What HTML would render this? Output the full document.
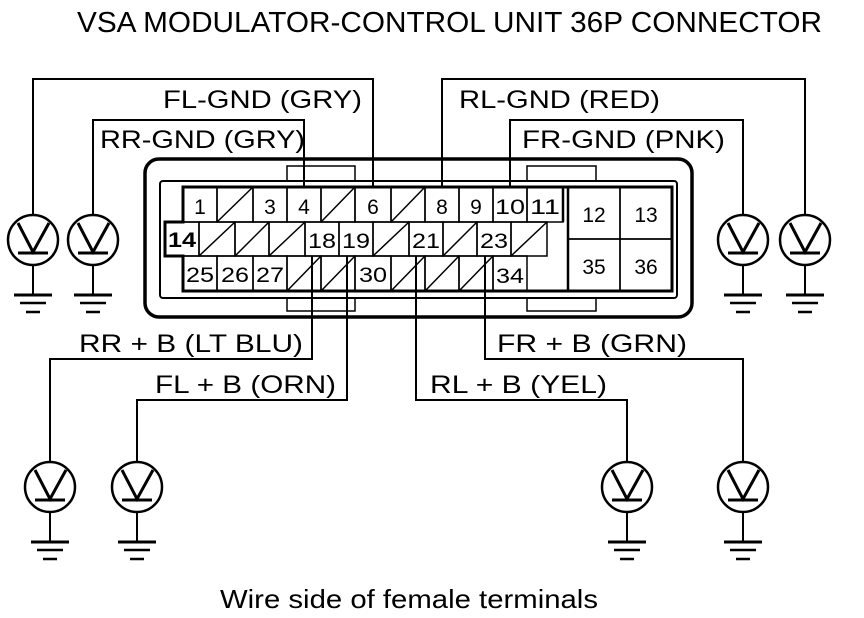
<!DOCTYPE html>
<html><head><meta charset="utf-8"><style>
html,body{margin:0;padding:0;background:#fff;}
svg{display:block;}
text{font-family:"Liberation Sans",sans-serif;fill:#000;}
</style></head><body>
<svg width="864" height="618" viewBox="0 0 864 618" xmlns="http://www.w3.org/2000/svg">
<defs>
<g id="lamp">
<circle cx="0" cy="0" r="25" fill="#fff" stroke="#000" stroke-width="2.5"/>
<polyline points="-15,-17 0,12 16,-17" fill="none" stroke="#000" stroke-width="3"/>
<line x1="-15" y1="13" x2="15" y2="13" stroke="#000" stroke-width="3"/>
<line x1="0" y1="25" x2="0" y2="55" stroke="#000" stroke-width="2"/>
<line x1="-19" y1="55" x2="19" y2="55" stroke="#000" stroke-width="3"/>
<line x1="-13" y1="63" x2="13" y2="63" stroke="#000" stroke-width="2.5"/>
<line x1="-7" y1="72" x2="7" y2="72" stroke="#000" stroke-width="2.5"/>
</g>
</defs>
<text x="77" y="32" font-size="29" textLength="745" lengthAdjust="spacingAndGlyphs">VSA MODULATOR-CONTROL UNIT 36P CONNECTOR</text>

<g fill="none" stroke="#000" stroke-width="2">
<polyline points="373,187 373,79 33,79 33,214"/>
<polyline points="304,187 304,120 93,120 93,214"/>
<polyline points="442,187 442,79 805,79 805,214"/>
<polyline points="510,187 510,120 743,120 743,214"/>
<polyline points="312,256 312,359 50,359 50,462"/>
<polyline points="347,256 347,400 137,400 137,462"/>
<polyline points="416,256 416,400 627,400 627,462"/>
<polyline points="485,256 485,359 743,359 743,462"/>
</g>

<rect x="145" y="159" width="547" height="158" rx="14" fill="none" stroke="#000" stroke-width="3.5"/>
<rect x="287" y="166" width="68" height="15" fill="none" stroke="#000" stroke-width="1.5"/>
<rect x="527" y="166" width="69" height="15" fill="none" stroke="#000" stroke-width="1.5"/>
<rect x="287" y="298" width="68" height="13" fill="none" stroke="#000" stroke-width="1.5"/>
<rect x="527" y="298" width="69" height="13" fill="none" stroke="#000" stroke-width="1.5"/>
<rect x="160" y="181" width="517" height="117" rx="3" fill="#fff" stroke="#000" stroke-width="2"/>

<g stroke="#000" stroke-width="1.5" fill="none">
<rect x="183" y="187" width="34" height="35"/><rect x="217" y="187" width="36" height="35"/>
<rect x="253" y="187" width="34" height="35"/><rect x="287" y="187" width="34" height="35"/>
<rect x="321" y="187" width="34" height="35"/><rect x="355" y="187" width="36" height="35"/>
<rect x="391" y="187" width="34" height="35"/><rect x="425" y="187" width="34" height="35"/>
<rect x="459" y="187" width="34" height="35"/><rect x="493" y="187" width="34" height="35"/>
<rect x="527" y="187" width="36" height="35"/>
<rect x="165" y="222" width="34" height="34"/><rect x="199" y="222" width="36" height="34"/>
<rect x="235" y="222" width="34" height="34"/><rect x="269" y="222" width="36" height="34"/>
<rect x="305" y="222" width="34" height="34"/><rect x="339" y="222" width="34" height="34"/>
<rect x="373" y="222" width="36" height="34"/><rect x="409" y="222" width="34" height="34"/>
<rect x="443" y="222" width="34" height="34"/><rect x="477" y="222" width="34" height="34"/>
<rect x="511" y="222" width="36" height="34"/>
<rect x="183" y="256" width="34" height="35"/><rect x="217" y="256" width="36" height="35"/>
<rect x="253" y="256" width="34" height="35"/><rect x="287" y="256" width="34" height="35"/>
<rect x="321" y="256" width="34" height="35"/><rect x="355" y="256" width="36" height="35"/>
<rect x="391" y="256" width="34" height="35"/><rect x="425" y="256" width="34" height="35"/>
<rect x="459" y="256" width="34" height="35"/><rect x="493" y="256" width="34" height="35"/>
<rect x="568" y="187" width="52" height="52"/><rect x="620" y="187" width="52" height="52"/>
<rect x="568" y="239" width="52" height="52"/><rect x="620" y="239" width="52" height="52"/>
<line x1="217" y1="222" x2="253" y2="187"/><line x1="321" y1="222" x2="355" y2="187"/>
<line x1="391" y1="222" x2="425" y2="187"/>
<line x1="199" y1="256" x2="235" y2="222"/><line x1="235" y1="256" x2="269" y2="222"/>
<line x1="269" y1="256" x2="305" y2="222"/><line x1="373" y1="256" x2="409" y2="222"/>
<line x1="443" y1="256" x2="477" y2="222"/><line x1="511" y1="256" x2="547" y2="222"/>
<line x1="287" y1="291" x2="321" y2="256"/><line x1="321" y1="291" x2="355" y2="256"/>
<line x1="391" y1="291" x2="425" y2="256"/><line x1="425" y1="291" x2="459" y2="256"/>
<line x1="459" y1="291" x2="493" y2="256"/>
</g>
<polygon points="183,187 672,187 672,291 183,291 183,256 165,256 165,222 183,222" fill="none" stroke="#000" stroke-width="3"/>
<line x1="563" y1="187" x2="563" y2="222" stroke="#000" stroke-width="2.5"/>
<line x1="568" y1="187" x2="568" y2="291" stroke="#000" stroke-width="2.5"/>

<g stroke="#000" stroke-width="2">
<line x1="373" y1="159" x2="373" y2="187"/><line x1="304" y1="159" x2="304" y2="187"/>
<line x1="442" y1="159" x2="442" y2="187"/><line x1="510" y1="159" x2="510" y2="187"/>
<line x1="312" y1="256" x2="312" y2="320"/><line x1="347" y1="256" x2="347" y2="320"/>
<line x1="416" y1="256" x2="416" y2="320"/><line x1="485" y1="256" x2="485" y2="320"/>
</g>

<g font-size="21" text-anchor="middle">
<text x="200" y="214">1</text><text x="270" y="214">3</text><text x="304" y="214">4</text>
<text x="373" y="214">6</text><text x="442" y="214">8</text><text x="476" y="214">9</text>
<text x="510" y="214" textLength="30" lengthAdjust="spacingAndGlyphs">10</text><text x="545" y="214" textLength="30" lengthAdjust="spacingAndGlyphs">11</text>
<text x="182" y="247" font-weight="bold" textLength="28" lengthAdjust="spacingAndGlyphs">14</text><text x="322" y="248" textLength="28" lengthAdjust="spacingAndGlyphs">18</text><text x="356" y="248" textLength="28" lengthAdjust="spacingAndGlyphs">19</text>
<text x="426" y="248" textLength="28" lengthAdjust="spacingAndGlyphs">21</text><text x="494" y="248" textLength="28" lengthAdjust="spacingAndGlyphs">23</text>
<text x="200" y="282" textLength="28" lengthAdjust="spacingAndGlyphs">25</text><text x="235" y="282" textLength="28" lengthAdjust="spacingAndGlyphs">26</text><text x="270" y="282" textLength="28" lengthAdjust="spacingAndGlyphs">27</text>
<text x="373" y="282" textLength="28" lengthAdjust="spacingAndGlyphs">30</text><text x="510" y="283" textLength="28" lengthAdjust="spacingAndGlyphs">34</text>
<text x="594" y="222">12</text><text x="646" y="222">13</text>
<text x="594" y="274">35</text><text x="646" y="274">36</text>
</g>

<g font-size="25">
<text x="163" y="108" textLength="199" lengthAdjust="spacingAndGlyphs">FL-GND (GRY)</text>
<text x="100" y="148" textLength="205" lengthAdjust="spacingAndGlyphs">RR-GND (GRY)</text>
<text x="459" y="108" textLength="201" lengthAdjust="spacingAndGlyphs">RL-GND (RED)</text>
<text x="522" y="148" textLength="203" lengthAdjust="spacingAndGlyphs">FR-GND (PNK)</text>
<text x="79" y="352" textLength="224" lengthAdjust="spacingAndGlyphs">RR  + B (LT BLU)</text>
<text x="155" y="393" textLength="181" lengthAdjust="spacingAndGlyphs">FL  + B (ORN)</text>
<text x="430" y="393" textLength="177" lengthAdjust="spacingAndGlyphs">RL  + B (YEL)</text>
<text x="497" y="352" textLength="190" lengthAdjust="spacingAndGlyphs">FR  + B (GRN)</text>
</g>

<use href="#lamp" x="33" y="240"/>
<use href="#lamp" x="93" y="240"/>
<use href="#lamp" x="743" y="240"/>
<use href="#lamp" x="805" y="240"/>
<use href="#lamp" x="50" y="487"/>
<use href="#lamp" x="137" y="487"/>
<use href="#lamp" x="627" y="487"/>
<use href="#lamp" x="743" y="487"/>

<text x="220" y="608" font-size="26" textLength="378" lengthAdjust="spacingAndGlyphs">Wire side of female terminals</text>
</svg>
</body></html>
